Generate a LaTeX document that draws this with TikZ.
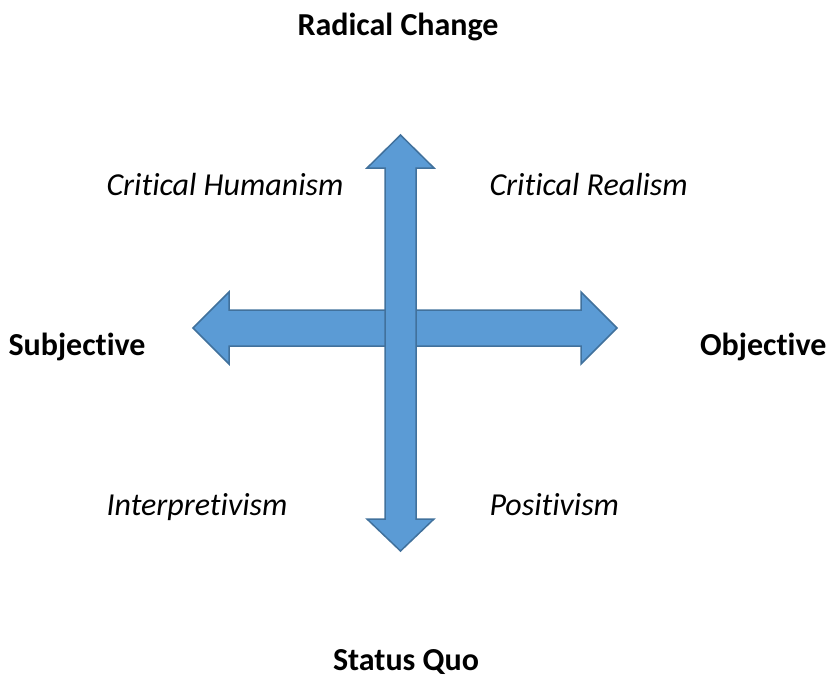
\documentclass[tikz,border=0pt]{standalone}
\usepackage{fontspec}
\setmainfont{Carlito}[Ligatures=CommonOff]
\definecolor{arrowfill}{HTML}{5B9BD5}
\definecolor{arrowline}{HTML}{41719C}
\begin{document}
\begin{tikzpicture}[x=1pt,y=-1pt,
  axis/.style={font=\fontsize{32}{38}\selectfont\bfseries},
  school/.style={font=\fontsize{32}{38}\selectfont\itshape,anchor=base west},
  bigarrow/.style={fill=arrowfill,draw=arrowline,line width=1.5pt,line join=miter}]
\useasboundingbox (0,0) rectangle (830,678);

% horizontal arrow first, the vertical one sits on top
\draw[bigarrow] (193,328) -- (229,292) -- (229,310) -- (581,310) -- (581,292) -- (617,328)
  -- (581,364) -- (581,346) -- (229,346) -- (229,364) -- cycle;
\draw[bigarrow] (400.5,135) -- (434,168) -- (416,168) -- (416,519) -- (434,519) -- (400.5,551)
  -- (367,519) -- (385,519) -- (385,168) -- (367,168) -- cycle;

\node[axis,anchor=base] (radical) at (398,35) {Radical Change};
\node[axis,anchor=base] (quo) at (406,670) {Status Quo};
\node[axis,anchor=base west] (subj) at (5,355) {Subjective};
\node[axis,anchor=base east] (obj) at (830,355) {Objective};

\node[school] (humanism) at (103,195) {Critical Humanism};
\node[school] (realism) at (486,195) {Critical Realism};
\node[school] (interp) at (103,515) {Interpretivism};
\node[school] (positiv) at (486,515) {Positivism};

\end{tikzpicture}
\end{document}
